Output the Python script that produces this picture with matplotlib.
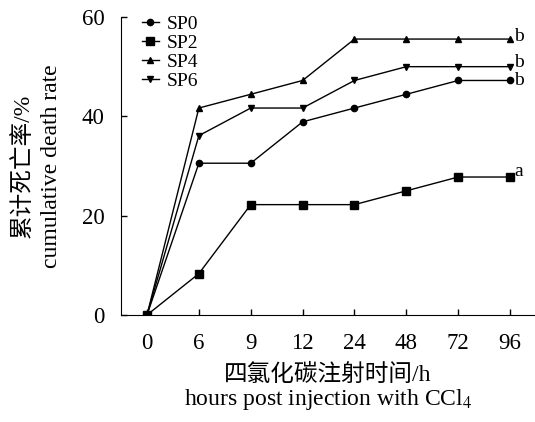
import matplotlib
matplotlib.use("Agg")
import matplotlib.pyplot as plt

plt.rcParams['font.family'] = ['Liberation Serif', 'Noto Sans CJK SC']
plt.rcParams['mathtext.fontset'] = 'stix'

# Data
hours = ['0', '6', '9', '12', '24', '48', '72', '96']
sp0 = [0, 30.56, 30.56, 38.89, 41.67, 44.44, 47.22, 47.22]
sp2 = [0, 8.33, 22.22, 22.22, 22.22, 25.0, 27.78, 27.78]
sp4 = [0, 41.67, 44.44, 47.22, 55.56, 55.56, 55.56, 55.56]
sp6 = [0, 36.11, 41.67, 41.67, 47.22, 50.0, 50.0, 50.0]
letters = {'SP0': 'b', 'SP2': 'a', 'SP4': 'b', 'SP6': 'b'}

x = list(range(len(hours)))

fig = plt.figure(figsize=(5.35, 4.22), dpi=100)
ax = fig.add_axes([0.2262, 0.2536, 0.7738, 0.7061])

series = [('SP0', sp0, 'o', 4.5), ('SP2', sp2, 's', 5.5),
          ('SP4', sp4, '^', 5), ('SP6', sp6, 'v', 5)]
for name, vals, m, ms in series:
    ax.plot(x, vals, color='black', lw=1, marker=m, ms=ms, label=name)

# significance letters next to the last point
dy = {'SP0': 0, 'SP2': 4, 'SP4': 2, 'SP6': 3}
for name, vals, m, ms in series:
    ax.annotate(letters[name], (x[-1], vals[-1]), xytext=(3, dy[name]),
                textcoords='offset points', fontsize=14, va='center')

ax.set_xlim(-0.501, 7.48)
ax.set_ylim(0, 60)
ax.set_yticks([0, 20, 40, 60])
ax.set_xticks(x)
ax.set_xticklabels(hours)
ax.tick_params(direction='in', labelsize=16.5, length=4, width=1)
ax.tick_params(axis='x', pad=13)
ax.tick_params(axis='y', pad=12)
ax.spines['top'].set_visible(False)
ax.spines['right'].set_visible(False)

# axis titles (Chinese + English lines)
fig.text(23 / 535, 1 - 166 / 422, '累计死亡率/%', rotation=90, fontsize=17,
         fontweight='light', ha='center', va='center')
fig.text(52 / 535, 1 - 166 / 422, 'cumulative death rate', rotation=90, fontsize=17,
         ha='center', va='center')
fig.text(328 / 535, 1 - 375 / 422, '四氯化碳注射时间/h', fontsize=17,
         fontweight='light', ha='center', va='center')
fig.text(328 / 535, 1 - 399 / 422, 'hours post injection with CCl$_4$', fontsize=17,
         ha='center', va='center')

ax.legend(loc='upper left', bbox_to_anchor=(142 / 535, 1 - 15 / 422),
          bbox_transform=fig.transFigure, frameon=False, fontsize=14,
          handlelength=0.85, handletextpad=0.4, labelspacing=0.08,
          borderpad=0, borderaxespad=0)

fig.savefig('out.png', dpi=100)
